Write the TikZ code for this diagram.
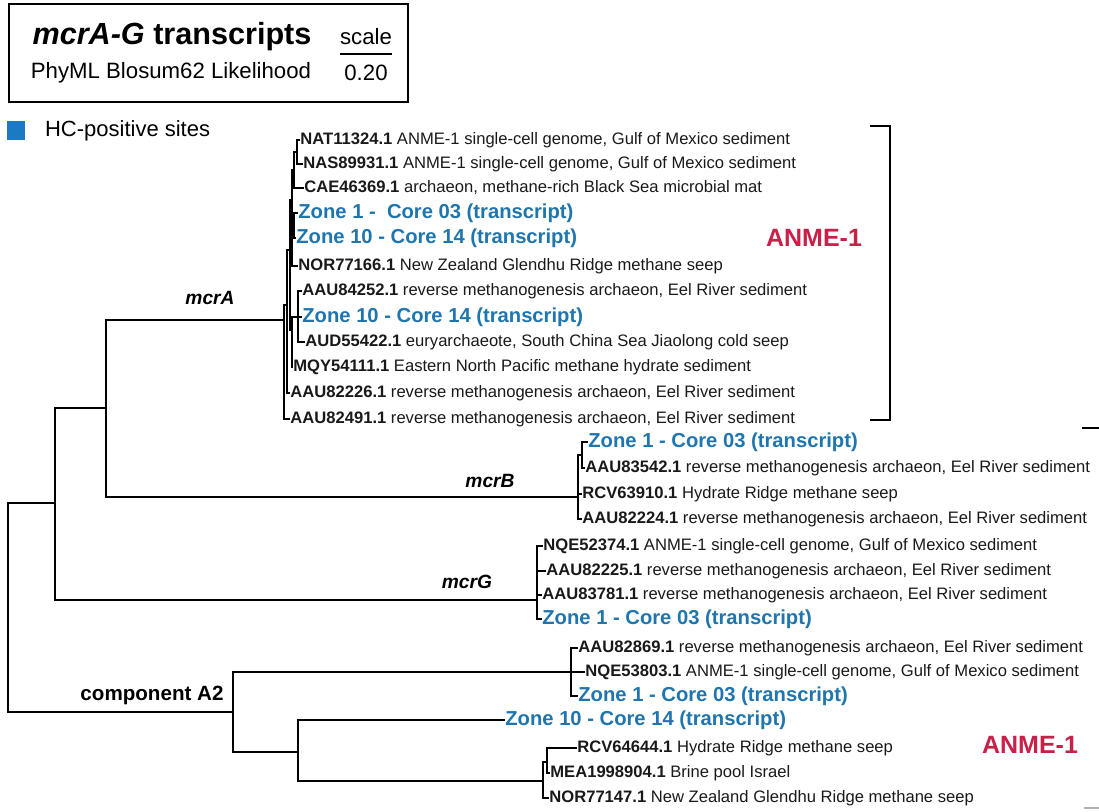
\documentclass[tikz,border=0pt]{standalone}
\usepackage{fontspec}
\setmainfont{Liberation Sans}
\definecolor{zoneblue}{RGB}{31,117,173}
\definecolor{hcblue}{RGB}{26,122,196}
\definecolor{anmered}{RGB}{200,32,72}

\begin{document}
\begin{tikzpicture}[x=0.5pt,y=-0.5pt,
  leaf/.style={anchor=west,inner sep=0.5pt,text height=6.2pt,text depth=1.7pt,font=\fontsize{8.3}{10}\selectfont,text=black!90},
  zone/.style={leaf,text height=7.4pt,text depth=2pt,font=\fontsize{10.1}{12}\selectfont\bfseries,text=zoneblue},
  clade/.style={font=\fontsize{9.6}{12}\selectfont\bfseries\itshape},
  anme/.style={font=\fontsize{12.5}{14}\selectfont\bfseries,text=anmered},
  branch/.style={line width=0.7pt,line cap=rect}]
 \useasboundingbox (0,0) rectangle (1099,811);

 % header
 \draw[line width=0.6pt] (9,4) rectangle (408,102); %box
 \node[font=\fontsize{15.3}{18}\selectfont\bfseries] (title) at (172,37) {\textit{mcrA-G} transcripts};
 \node[font=\fontsize{11.1}{13}\selectfont] (method) at (171,73) {PhyML Blosum62 Likelihood};
 \node[font=\fontsize{11.1}{13}\selectfont] (scale) at (366,37) {scale};
 \node[font=\fontsize{11.1}{13}\selectfont] (scaleval) at (366,73) {0.20};
 \draw[line width=0.7pt] (340,54) -- (392,54); %scale bar
 \fill[hcblue] (7,121) rectangle (25,140);
 \node[anchor=west,font=\fontsize{11}{13}\selectfont] (hc) at (38,131) {HC-positive sites};

 % leaves, mcrA
 \node[leaf] (l1) at (299,140) {\textbf{NAT11324.1} ANME-1 single-cell genome, Gulf of Mexico sediment};
 \node[leaf] (l2) at (302,164) {\textbf{NAS89931.1} ANME-1 single-cell genome, Gulf of Mexico sediment};
 \node[leaf] (l3) at (303,188) {\textbf{CAE46369.1} archaeon, methane-rich Black Sea microbial mat};
 \node[zone] (l4) at (297,213) {Zone 1 -\ \ Core 03 (transcript)};
 \node[zone] (l5) at (295,238) {Zone 10 - Core 14 (transcript)};
 \node[leaf] (l6) at (297,266) {\textbf{NOR77166.1} New Zealand Glendhu Ridge methane seep};
 \node[leaf] (l7) at (301,291) {\textbf{AAU84252.1} reverse methanogenesis archaeon, Eel River sediment};
 \node[zone] (l8) at (301,317) {Zone 10 - Core 14 (transcript)};
 \node[leaf] (l9) at (304,342) {\textbf{AUD55422.1} euryarchaeote, South China Sea Jiaolong cold seep};
 \node[leaf] (l10) at (292,367) {\textbf{MQY54111.1} Eastern North Pacific methane hydrate sediment};
 \node[leaf] (l11) at (289,393) {\textbf{AAU82226.1} reverse methanogenesis archaeon, Eel River sediment};
 \node[leaf] (l12) at (289,419) {\textbf{AAU82491.1} reverse methanogenesis archaeon, Eel River sediment};
 % leaves, mcrB
 \node[zone] (l13) at (587,442) {Zone 1 - Core 03 (transcript)};
 \node[leaf] (l14) at (584,468) {\textbf{AAU83542.1} reverse methanogenesis archaeon, Eel River sediment};
 \node[leaf] (l15) at (581,494) {\textbf{RCV63910.1} Hydrate Ridge methane seep};
 \node[leaf] (l16) at (581,519) {\textbf{AAU82224.1} reverse methanogenesis archaeon, Eel River sediment};
 % leaves, mcrG
 \node[leaf] (l17) at (542,546) {\textbf{NQE52374.1} ANME-1 single-cell genome, Gulf of Mexico sediment};
 \node[leaf] (l18) at (545,571) {\textbf{AAU82225.1} reverse methanogenesis archaeon, Eel River sediment};
 \node[leaf] (l19) at (541,595) {\textbf{AAU83781.1} reverse methanogenesis archaeon, Eel River sediment};
 \node[zone] (l20) at (541,619) {Zone 1 - Core 03 (transcript)};
 % leaves, component A2
 \node[leaf] (l21) at (577,648) {\textbf{AAU82869.1} reverse methanogenesis archaeon, Eel River sediment};
 \node[leaf] (l22) at (584,672) {\textbf{NQE53803.1} ANME-1 single-cell genome, Gulf of Mexico sediment};
 \node[zone] (l23) at (577,696) {Zone 1 - Core 03 (transcript)};
 \node[zone] (l24) at (504,720) {Zone 10 - Core 14 (transcript)};
 \node[leaf] (l25) at (576,748) {\textbf{RCV64644.1} Hydrate Ridge methane seep};
 \node[leaf] (l26) at (549,773) {\textbf{MEA1998904.1} Brine pool Israel};
 \node[leaf] (l27) at (548,798) {\textbf{NOR77147.1} New Zealand Glendhu Ridge methane seep};

 % inner nodes
 \coordinate (r) at (8,503); %root
 \coordinate (b) at (55,503);
 \coordinate (ab) at (106,408);
 \coordinate (a) at (284,320); %mcrA
 \coordinate (a1) at (287,305);
 \coordinate (a2) at (290,250);
 \coordinate (u1) at (292,200);
 \coordinate (u2) at (294,170);
 \coordinate (u3) at (297,152);
 \coordinate (uz) at (294,225);
 \coordinate (m1) at (292,330);
 \coordinate (m2) at (298,317);
 \coordinate (bB) at (578,497); %mcrB
 \coordinate (b1) at (582,455);
 \coordinate (g) at (537,600); %mcrG
 \coordinate (c2) at (233,712); %component A2
 \coordinate (c3) at (571,672);
 \coordinate (c4) at (298,752);
 \coordinate (c5) at (543,781);
 \coordinate (c6) at (547,762);

 \foreach \p/\c in {r/b,r/c2,b/ab,b/g,ab/a,ab/bB,
   a/a1,a/l12,a1/a2,a1/l11,a2/u1,a2/m1,u1/u2,u1/uz,u1/l6,u2/u3,u2/l3,u3/l1,u3/l2,uz/l4,uz/l5,
   m1/m2,m1/l10,m2/l7,m2/l8,m2/l9,
   bB/b1,bB/l15,bB/l16,b1/l13,b1/l14,
   g/l17,g/l18,g/l19,g/l20,
   c2/c3,c2/c4,c3/l21,c3/l22,c3/l23,c4/l24,c4/c5,c5/c6,c5/l27,c6/l25,c6/l26}
   \draw[branch] (\p) |- (\c);

 % clade labels
 \node[clade] (mcrA) at (210,298) {mcrA};
 \node[clade] (mcrB) at (490,481) {mcrB};
 \node[clade] (mcrG) at (467,582) {mcrG};
 \node[font=\fontsize{10.3}{12}\selectfont\bfseries] (compA2) at (152,695) {component A2};
 \node[anme] (anme1) at (814,238) {ANME-1};
 \node[anme] (anme2) at (1030,745) {ANME-1};
 \draw[line width=0.7pt] (870,126) -- (890,126) -- (890,420) -- (870,420); %bracket
 \draw[line width=0.7pt] (1082,428) -- (1099,428);
 \draw[gray!60,line width=0.7pt] (1084,808) -- (1099,808);
\end{tikzpicture}
\end{document}
